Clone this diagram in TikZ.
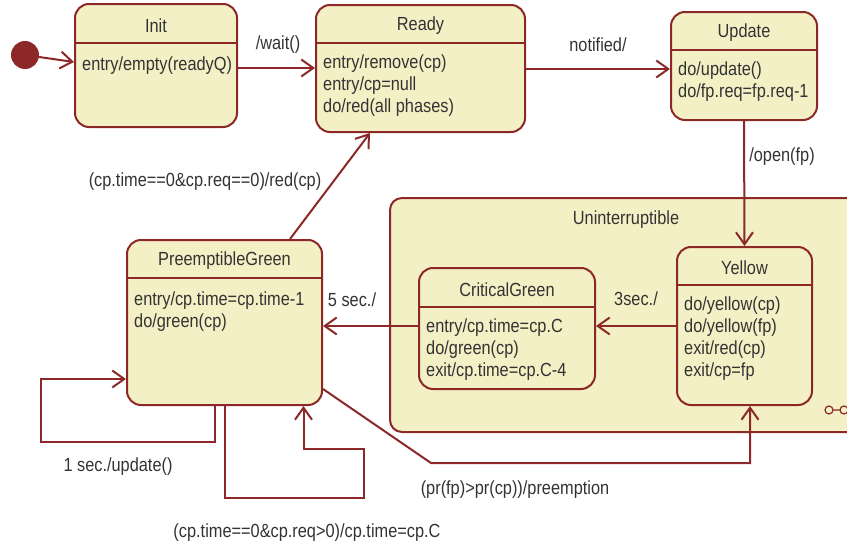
\documentclass[tikz,border=0pt]{standalone}
\usepackage{fontspec}
\setmainfont{Liberation Sans}[FakeStretch=0.86]
\usepackage{tikz}
\usetikzlibrary{arrows.meta, positioning, calc}

\definecolor{stateborder}{RGB}{140,40,40}
\definecolor{statefill}{RGB}{244,240,198}
\definecolor{labeltext}{RGB}{51,51,51}

\begin{document}
\begin{tikzpicture}[x=1pt, y=-1pt,
    state/.style={rectangle, rounded corners=14pt, draw=stateborder, line width=2pt, fill=statefill},
    composite/.style={state, rounded corners=12pt},
    sepline/.style={draw=stateborder, line width=2pt},
    statename/.style={font=\fontsize{19}{22}\selectfont, text=labeltext, inner sep=0pt},
    body/.style={statename, align=left, anchor=north west},
    guard/.style={statename},
    trans/.style={-{Straight Barb[length=12pt, width=17pt]}, draw=stateborder, line width=2pt},
    startdot/.style={circle, fill=stateborder, minimum size=28pt, inner sep=0pt}
]
\useasboundingbox (0,0) rectangle (847,546);
\clip (0,0) rectangle (847,546);

% Composite state
\node[composite, minimum width=480pt, minimum height=234pt] (unint) at (630,315) {};
\node[statename] (unintT) at (626,220) {Uninterruptible};
\draw[sepline, line width=1.2pt] (829,410) circle (4pt) (833,410) -- (840,410) (844,410) circle (4pt);

% Initial state
\node[startdot] (start) at (25,55) {};

% Init
\node[state, minimum width=162pt, minimum height=123pt] (init) at (156,65.5) {};
\draw[sepline] (init.west |- 0,43) -- (init.east |- 0,43);
\node[statename] (initT) at (156,26) {Init};
\node[body] (initB) at (82,57) {entry/empty(readyQ)};

% Ready
\node[state, minimum width=209pt, minimum height=127pt] (ready) at (420.5,68.5) {};
\draw[sepline] (ready.west |- 0,43) -- (ready.east |- 0,43);
\node[statename] (readyT) at (420.5,26) {Ready};
\node[body] (readyB) at (323,55) {entry/remove(cp)\\entry/cp=null\\do/red(all phases)};

% Update
\node[state, minimum width=146pt, minimum height=108pt] (update) at (744,66) {};
\draw[sepline] (update.west |- 0,50) -- (update.east |- 0,50);
\node[statename] (updateT) at (744,33) {Update};
\node[body] (updateB) at (678,62) {do/update()\\do/fp.req=fp.req-1};

% Yellow
\node[state, minimum width=135pt, minimum height=158pt] (yellow) at (744.5,326) {};
\draw[sepline] (yellow.west |- 0,285) -- (yellow.east |- 0,285);
\node[statename] (yellowT) at (744.5,268) {Yellow};
\node[body] (yellowB) at (684,297) {do/yellow(cp)\\do/yellow(fp)\\exit/red(cp)\\exit/cp=fp};

% CriticalGreen
\node[state, minimum width=176pt, minimum height=121pt] (critical) at (507,328.5) {};
\draw[sepline] (critical.west |- 0,307) -- (critical.east |- 0,307);
\node[statename] (criticalT) at (507,290) {CriticalGreen};
\node[body] (criticalB) at (426,319) {entry/cp.time=cp.C\\do/green(cp)\\exit/cp.time=cp.C-4};

% PreemptibleGreen
\node[state, minimum width=195pt, minimum height=165pt] (preempt) at (224.5,322.5) {};
\draw[sepline] (preempt.west |- 0,278) -- (preempt.east |- 0,278);
\node[statename] (preemptT) at (224.5,261) {PreemptibleGreen};
\node[body] (preemptB) at (134,292) {entry/cp.time=cp.time-1\\do/green(cp)};

% Transitions
\draw[trans] (start) -- ($(init.west)+(0,-3.5)$);
\draw[trans] (init.east |- 0,68) -- (ready.west |- 0,68);
\draw[trans] (ready.east |- 0,69) -- (update.west |- 0,69);
\draw[trans] (update.south) -- (yellow.north);
\draw[trans] (yellow.west) -- (critical.east |- yellow.west);
\draw[trans] (critical.west |- yellow.west) -- (preempt.east |- yellow.west);
\draw[trans] ($(preempt.north)+(65.5,0)$) -- ($(ready.south)+(-50.5,0)$);
\draw[trans] ($(preempt.south)+(-9.5,0)$) |- ++(-174,36) |- ($(preempt.west)+(0,56.5)$);
\draw[trans] (preempt.south) |- ++(139,92) |- ++(-60,-49) -- ($(preempt.south)+(79,0)$);
\draw[trans] ($(preempt.south east)+(0,-17)$) -- ++(108,74) -| ($(yellow.south)+(5.5,0)$);

% Guards
\node[guard] (lwait) at (278,45) {/wait()};
\node[guard] (lnotified) at (598,45) {notified/};
\node[guard] (lopen) at (782,157) {/open(fp)};
\node[guard] (lthree) at (636,299) {3sec./};
\node[guard] (lfive) at (352,300) {5 sec./};
\node[guard] (lred) at (205,182) {(cp.time==0\&cp.req==0)/red(cp)};
\node[guard] (lone) at (118,467) {1 sec./update()};
\node[guard] (lreset) at (307,533) {(cp.time==0\&cp.req>0)/cp.time=cp.C};
\node[guard] (lpre) at (515,490) {(pr(fp)>pr(cp))/preemption};

\end{tikzpicture}
\end{document}
